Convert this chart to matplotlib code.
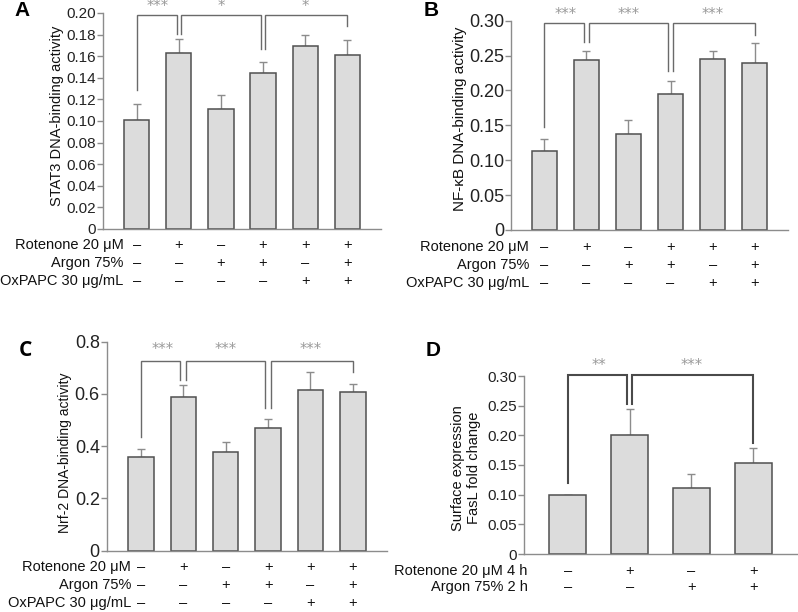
import matplotlib
matplotlib.use("Agg")
import matplotlib.pyplot as plt

plt.rcParams['font.family'] = ['Liberation Sans', 'DejaVu Sans']

# ---------------- data ----------------
A_vals = [0.101, 0.163, 0.111, 0.144, 0.169, 0.161]
A_err = [0.015, 0.013, 0.013, 0.011, 0.011, 0.014]
B_vals = [0.113, 0.243, 0.138, 0.195, 0.245, 0.239]
B_err = [0.017, 0.014, 0.019, 0.019, 0.012, 0.029]
C_vals = [0.357, 0.589, 0.376, 0.468, 0.617, 0.607]
C_err = [0.031, 0.046, 0.039, 0.036, 0.067, 0.030]
D_vals = [0.100, 0.201, 0.112, 0.154]
D_err = [0.0, 0.043, 0.022, 0.024]

row_labels_3 = ["Rotenone 20 μM", "Argon 75%", "OxPAPC 30 μg/mL"]
rot_signs = ["–", "+", "–", "+", "+", "+"]
arg_signs = ["–", "–", "+", "+", "–", "+"]
ox_signs = ["–", "–", "–", "–", "+", "+"]
row_labels_D = ["Rotenone 20 μM 4 h", "Argon 75% 2 h"]
D_rot_signs = ["–", "+", "–", "+"]
D_arg_signs = ["–", "–", "+", "+"]

A_ticks = [0, 0.02, 0.04, 0.06, 0.08, 0.10, 0.12, 0.14, 0.16, 0.18, 0.20]
A_ticklabels = ["0", "0.02", "0.04", "0.06", "0.08", "0.10", "0.12", "0.14", "0.16", "0.18", "0.20"]
B_ticks = [0, 0.05, 0.10, 0.15, 0.20, 0.25, 0.30]
B_ticklabels = ["0", "0.05", "0.10", "0.15", "0.20", "0.25", "0.30"]
C_ticks = [0, 0.2, 0.4, 0.6, 0.8]
C_ticklabels = ["0", "0.2", "0.4", "0.6", "0.8"]
D_ticks = B_ticks
D_ticklabels = B_ticklabels

# brackets: (i, j, top, left leg bottom, right leg bottom, stars)
A_br = [(0, 1, 0.198, 0.129, 0.181, "***"), (1, 3, 0.198, 0.181, 0.167, "*"), (3, 5, 0.198, 0.167, 0.188, "*")]
B_br = [(0, 1, 0.296, 0.147, 0.270, "***"), (1, 3, 0.296, 0.270, 0.228, "***"), (3, 5, 0.296, 0.228, 0.279, "***")]
C_br = [(0, 1, 0.726, 0.434, 0.653, "***"), (1, 3, 0.726, 0.653, 0.545, "***"), (3, 5, 0.726, 0.545, 0.683, "***")]
D_br = [(0, 1, 0.302, 0.120, 0.253, "**"), (1, 3, 0.302, 0.253, 0.187, "***")]

W, H = 798, 612
fig = plt.figure(figsize=(W / 100, H / 100), dpi=100)

BAR_FACE = "#dcdcdc"
BAR_EDGE = "#505050"
SPINE = "#8c8c8c"
ERR = "#8c8c8c"


def px_axes(l, r, b, t):
    return fig.add_axes([l / W, 1 - b / H, (r - l) / W, (b - t) / H])


def panel(ax, vals, errs, ticks, ticklabels, ylim, xlim, tick_fs, ylabel, ylab_x, ylab_y, ylab_fs,
          brackets, star_y, star_fs, br_color, br_lw, leg_off, rows, row_names, label_off_px, row_fs, row_px):
    x = list(range(len(vals)))
    ax.bar(x, vals, width=0.6, color=BAR_FACE, edgecolor=BAR_EDGE, linewidth=1.1, zorder=2)
    ax.errorbar(x, vals, yerr=[[0] * len(errs), errs], fmt="none", ecolor=ERR, elinewidth=1.0,
                capsize=3, capthick=1.0, zorder=1)
    ax.set_xlim(*xlim)
    ax.set_ylim(*ylim)
    ax.set_yticks(ticks)
    ax.set_yticklabels(ticklabels, fontsize=tick_fs, color="#222222")
    ax.set_xticks([])
    for s in ["top", "right"]:
        ax.spines[s].set_visible(False)
    for s in ["left", "bottom"]:
        ax.spines[s].set_color(SPINE)
        ax.spines[s].set_linewidth(1.0)
    ax.tick_params(axis="y", length=4, width=1, color=SPINE, pad=1)
    ax.text(ylab_x, ylab_y, ylabel, rotation=90, transform=ax.transAxes, ha="center", va="center",
            fontsize=ylab_fs, color="#111111", multialignment="center")
    for (i, j, top, lb, rb, stars) in brackets:
        xi = i + (leg_off if any(b[1] == i for b in brackets) else 0)
        xj = j - (leg_off if any(b[0] == j for b in brackets) else 0)
        ax.plot([xi, xi, xj, xj], [lb, top, top, rb], color=br_color, lw=br_lw, clip_on=False, zorder=3,
                solid_joinstyle="miter")
        ax.text((i + j) / 2, star_y, stars, ha="center", va="center", fontsize=star_fs, color="#9a9a9a",
                family=["DejaVu Sans"], clip_on=False)
    for r, (signs, name) in enumerate(zip(rows, row_names)):
        dy = -row_px[r] * 0.72
        for k, s in enumerate(signs):
            ax.annotate(s, xy=(k, 0), xycoords=ax.get_xaxis_transform(), xytext=(0, dy),
                        textcoords="offset points", ha="center", va="center", fontsize=row_fs, color="#111111",
                        annotation_clip=False)
        ax.annotate(name, xy=(0, 0), xycoords=ax.get_xaxis_transform(), xytext=(label_off_px * 0.72, dy),
                    textcoords="offset points", ha="right", va="center", fontsize=row_fs, color="#111111",
                    annotation_clip=False)


axA = px_axes(103, 381, 229, 13)
panel(axA, A_vals, A_err, A_ticks, A_ticklabels, (0, 0.20), (-0.8, 5.8), 11,
      "STAT3 DNA-binding activity", -0.165, 0.523, 10.5, A_br, 0.2058, 10.5, "#6a6a6a", 1.0, 0.055,
      [rot_signs, arg_signs, ox_signs], row_labels_3, -13, 10.5, [16, 34, 52])

axB = px_axes(511, 788, 230, 20.7)
panel(axB, B_vals, B_err, B_ticks, B_ticklabels, (0, 0.30), (-0.79, 5.79), 13,
      "NF-κB DNA-binding activity", -0.184, 0.53, 11, B_br, 0.3096, 10.5, "#6a6a6a", 1.0, 0.06,
      [rot_signs, arg_signs, ox_signs], row_labels_3, -15, 10.5, [17, 35, 53])

axC = px_axes(106.7, 386.7, 550.7, 341.7)
panel(axC, C_vals, C_err, C_ticks, C_ticklabels, (0, 0.8), (-0.81, 5.8), 13,
      "Nrf-2 DNA-binding activity", -0.149, 0.469, 10, C_br, 0.771, 10.5, "#6a6a6a", 1.0, 0.07,
      [rot_signs, arg_signs, ox_signs], row_labels_3, -10, 10.5, [16, 34, 52])

axD = px_axes(524, 797, 554, 376)
panel(axD, D_vals, D_err, D_ticks, D_ticklabels, (0, 0.30), (-0.71, 3.71), 11,
      "Surface expression\nFasL fold change", -0.212, 0.483, 10.5, D_br, 0.3185, 10.5, "#4a4a4a", 1.5, 0.035,
      [D_rot_signs, D_arg_signs], row_labels_D, -40, 10.5, [17, 33])

for letter, (px, py), fam in [("A", (22, 10), None), ("B", (431, 10), None),
                              ("C", (25, 350), "Open Sans"), ("D", (433, 350), None)]:
    kw = {}
    if fam:
        kw["family"] = [fam, "DejaVu Sans"]
    fig.text(px / W, 1 - py / H, letter, fontsize=15, fontweight="bold", ha="center", va="center", **kw)

fig.savefig("out.png", dpi=100, facecolor="white")
